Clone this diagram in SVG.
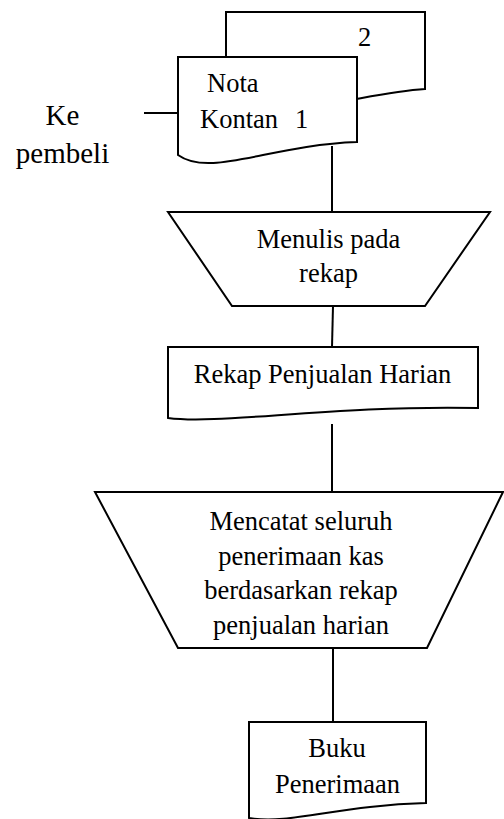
<svg xmlns="http://www.w3.org/2000/svg" width="504" height="819" viewBox="0 0 504 819">
<style>
.s{fill:#fff;stroke:#000;stroke-width:2;stroke-linejoin:miter}
.c{fill:none;stroke:#000;stroke-width:2}
text{font-family:"Liberation Serif","Times New Roman",serif;font-size:26.5px;fill:#000}
.m{text-anchor:middle}
.k{font-size:29px}
</style>
<rect width="504" height="819" fill="#fff"/>
<g id="connectors">
<line class="c" x1="144" y1="113" x2="178" y2="113"/>
<line class="c" x1="332" y1="146" x2="332" y2="212"/>
<line class="c" x1="333" y1="306" x2="332" y2="347"/>
<line class="c" x1="332" y1="424" x2="332" y2="492"/>
<line class="c" x1="333" y1="648" x2="333" y2="722"/>
</g>
<g id="nota-kontan-2">
<path class="s" d="M226,12 H425 V89 C360,93 300,120 226,102 Z"/>
<text x="358" y="46">2</text>
</g>
<g id="nota-kontan-1">
<path class="s" d="M178,57 H357 V142 C270,145 210,178 178,155 Z"/>
<text x="207" y="92">Nota</text>
<text x="200" y="128">Kontan</text>
<text x="295" y="128">1</text>
</g>
<g id="ke-pembeli">
<text class="m k" x="62.5" y="125">Ke</text>
<text class="m k" x="62.5" y="163">pembeli</text>
</g>
<g id="menulis-pada-rekap">
<path class="s" d="M168,212 H490 L425,306 H232 Z"/>
<text class="m" x="328.5" y="248">Menulis pada</text>
<text class="m" x="328.5" y="282">rekap</text>
</g>
<g id="rekap-penjualan-harian">
<path class="s" d="M168,347 H478 V408 C330,405 220,425 168,418 Z"/>
<text class="m" x="322.5" y="383">Rekap Penjualan Harian</text>
</g>
<g id="mencatat">
<path class="s" d="M95,492 H503 L427,648 H178 Z"/>
<text class="m" x="301" y="530">Mencatat seluruh</text>
<text class="m" x="301" y="564.5">penerimaan kas</text>
<text class="m" x="301" y="599">berdasarkan rekap</text>
<text class="m" x="301" y="633.5">penjualan harian</text>
</g>
<g id="buku-penerimaan">
<path class="s" d="M249,722 H426 V803 C340,805 290,825 249,818 Z"/>
<text class="m" x="337" y="757">Buku</text>
<text class="m" x="337.5" y="793">Penerimaan</text>
</g>
</svg>
